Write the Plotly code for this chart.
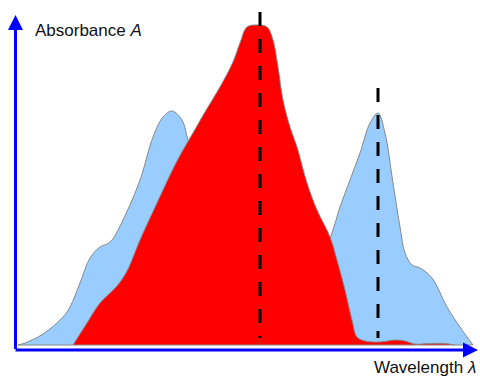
import plotly.graph_objects as go

# wavelength (arbitrary units) and absorbance (arbitrary units)
wl_blue = [18, 25, 43, 63, 70, 80, 90, 100, 107, 112, 123, 140, 153, 163, 172, 182, 188,
           195, 210, 230, 250, 270, 290, 310, 325, 332, 340, 350, 360, 370, 378,
           385, 393, 400, 405, 412, 420, 432, 447, 460, 473]
abs_blue = [0, 2, 11, 28, 38, 62, 87, 98, 101, 105, 125, 165, 208, 228, 234, 225, 205,
            185, 150, 120, 100, 85, 78, 80, 95, 112, 138, 165, 192, 222, 232,
            212, 162, 118, 92, 80, 77, 67, 38, 18, 0]

wl_red = [73, 87, 100, 117, 127, 140, 157, 177, 193, 205, 220, 233, 240, 247, 257, 267,
          273, 278, 283, 290, 297, 307, 317, 330, 337, 345, 352, 357, 365, 380, 395,
          405, 415, 430, 445, 455]
abs_red = [0, 22, 42, 59, 74, 105, 142, 184, 212, 233, 258, 283, 302, 318, 320, 318,
           305, 278, 245, 218, 198, 162, 135, 108, 85, 55, 25, 8, 4, 3, 5,
           4, 1, 1.5, 1.5, 0]

peaks = [260, 378]
peak_tops = [333, 257]

fig = go.Figure()
fig.add_trace(go.Scatter(x=wl_blue, y=abs_blue, mode="lines", line=dict(color="#888888", width=1, shape="spline"),
                         fill="tozeroy", fillcolor="#99ccff", hoverinfo="skip"))
fig.add_trace(go.Scatter(x=wl_red, y=abs_red, mode="lines", line=dict(color="#888888", width=1, shape="spline"),
                         fill="tozeroy", fillcolor="#ff0000", hoverinfo="skip"))

# baseline of the spectra
fig.add_shape(type="line", x0=18, x1=473, y0=0, y1=0, line=dict(color="#888888", width=1), layer="above")

# peak markers
for p, t in zip(peaks, peak_tops):
    fig.add_shape(type="line", x0=p, x1=p, y0=t, y1=7,
                  line=dict(color="black", width=3, dash="14px,13px"), layer="above")

# axes with arrows
fig.add_annotation(x=15.5, y=330, ax=15.5, ay=-5.5, xref="x", yref="y", axref="x", ayref="y",
                   showarrow=True, arrowhead=2, arrowwidth=3, arrowsize=1, arrowcolor="#0000ff", text="")
fig.add_annotation(x=478, y=-5, ax=14, ay=-5, xref="x", yref="y", axref="x", ayref="y",
                   showarrow=True, arrowhead=2, arrowwidth=3, arrowsize=1, arrowcolor="#0000ff", text="")

fig.add_annotation(x=33, y=315, xref="x", yref="y", xanchor="left", yanchor="middle", showarrow=False,
                   text="Absorbance <i>A</i>", font=dict(size=17, color="#111111"))
fig.add_annotation(x=478, y=-22, xref="x", yref="y", xanchor="right", yanchor="middle", showarrow=False,
                   text="Wavelength <i>λ</i>", font=dict(size=17, color="#111111"))

fig.update_layout(
    width=480, height=379,
    margin=dict(l=0, r=0, t=0, b=0),
    paper_bgcolor="white", plot_bgcolor="white",
    showlegend=False,
    font=dict(family="Liberation Sans, Arial, sans-serif"),
    xaxis=dict(range=[0, 480], visible=False, fixedrange=True),
    yaxis=dict(range=[-34, 345], visible=False, fixedrange=True),
)

# the page's default body margin would push the figure off the window
fig.write_html("out.html", config={"displayModeBar": False},
               post_script="document.body.style.margin='0';")
